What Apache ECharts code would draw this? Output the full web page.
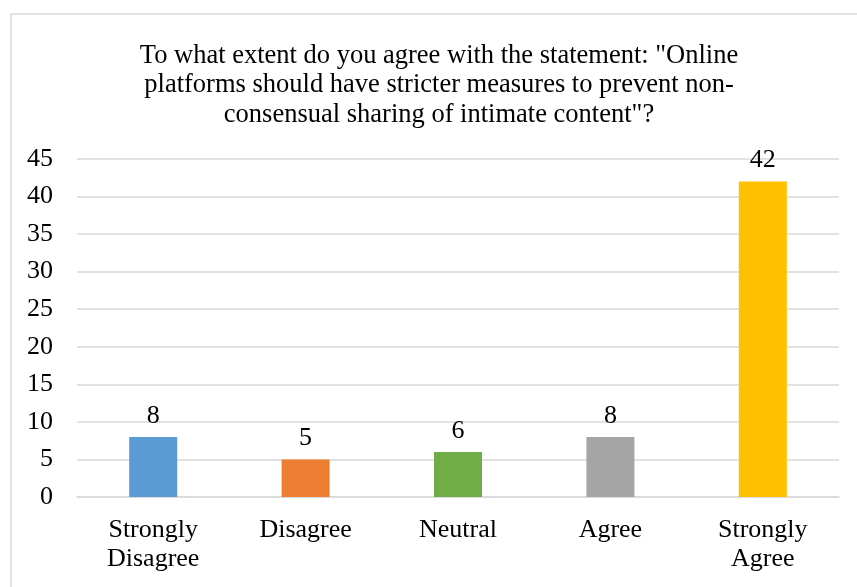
<!DOCTYPE html>
<html>
<head>
<meta charset="utf-8">
<script src="https://cdn.jsdelivr.net/npm/echarts@6/dist/echarts.min.js"></script>
<style>
html,body{margin:0;padding:0;background:#fff;}
#chart{width:857px;height:587px;}
</style>
</head>
<body>
<div id="chart"></div>
<script>
// Survey responses
const categories = ['Strongly\nDisagree', 'Disagree', 'Neutral', 'Agree', 'Strongly\nAgree'];
const counts = [8, 5, 6, 8, 42];
const barColors = ['#5B9BD5', '#ED7D31', '#70AD47', '#A5A5A5', '#FFC000'];
const titleText = 'To what extent do you agree with the statement: "Online\nplatforms should have stricter measures to prevent non-\nconsensual sharing of intimate content"?';

const serif = '"Liberation Serif", "Times New Roman", serif';

const chart = echarts.init(document.getElementById('chart'));
chart.setOption({
  animation: false,
  backgroundColor: '#fff',
  graphic: [{
    type: 'rect',
    shape: { x: 11, y: 14, width: 880, height: 620 },
    style: { fill: 'none', stroke: '#d9d9d9', lineWidth: 1.5 },
    silent: true
  }],
  title: {
    text: titleText,
    left: 434,
    top: 36,
    textAlign: 'center',
    textStyle: {
      fontFamily: serif,
      fontWeight: 'normal',
      fontSize: 26.5,
      lineHeight: 29.5,
      color: '#000'
    }
  },
  grid: { left: 77, right: 18, top: 159, bottom: 90, containLabel: false },
  xAxis: {
    type: 'category',
    data: categories,
    axisLine: { show: true, lineStyle: { color: '#d9d9d9', width: 1.5 } },
    axisTick: { show: false },
    axisLabel: {
      fontFamily: serif, fontSize: 26, lineHeight: 29, color: '#000', margin: 19, interval: 0
    }
  },
  yAxis: {
    type: 'value',
    min: 0, max: 45, interval: 5,
    axisLine: { show: false },
    axisTick: { show: false },
    splitLine: { lineStyle: { color: '#d9d9d9', width: 1.5 } },
    axisLabel: { fontFamily: serif, fontSize: 26, color: '#000', margin: 24 }
  },
  series: [{
    type: 'bar',
    data: counts.map((v, i) => ({ value: v, itemStyle: { color: barColors[i] } })),
    barWidth: '31.5%',
    label: {
      show: true, position: 'top', distance: 8,
      fontFamily: serif, fontSize: 26, color: '#000'
    }
  }]
});
</script>
</body>
</html>
